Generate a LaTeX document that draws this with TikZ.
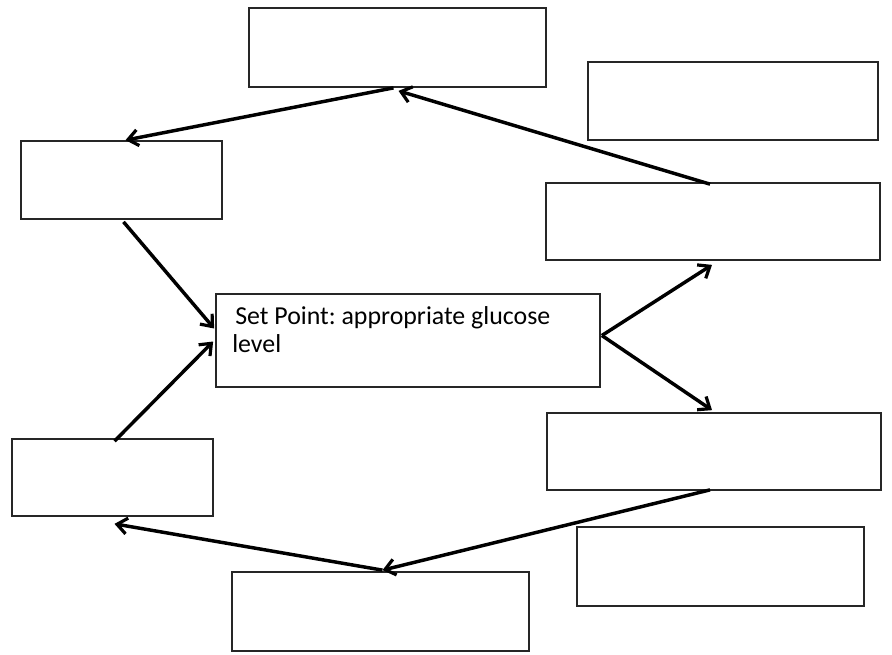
\documentclass[tikz,border=0pt]{standalone}
\usepackage{fontspec}
\setmainfont{Carlito}
\usetikzlibrary{arrows.meta,fit,calc}
\frenchspacing
\tikzset{
  box/.style={draw=black!85, line width=1.3pt, inner sep=0pt, fill=white},
  conn/.style={draw=black, line width=2.6pt, -{Straight Barb[length=7.5pt,width=12pt,line width=2.4pt]}},
  lbl/.style={inner sep=0pt, anchor=base west, font=\fontsize{19.4pt}{21.2pt}\selectfont}
}
\begin{document}
\begin{tikzpicture}[x=0.75pt,y=-0.75pt]
\useasboundingbox (0,0) rectangle (892,654);
\node[box, fit={(249,8) (546,87)}] (T) {};
\node[box, fit={(588,62) (878,140)}] (TR) {};
\node[box, fit={(21,141) (222,219)}] (LU) {};
\node[box, fit={(546,183) (880,260)}] (RU) {};
\node[box, fit={(216,294) (600,387)}] (C) {};
\node[box, fit={(547,413) (881,490)}] (RL) {};
\node[box, fit={(12,439) (213,516)}] (LL) {};
\node[box, fit={(577,527) (864,606)}] (BR) {};
\node[box, fit={(232,572) (529,651)}] (B) {};
\node[lbl] (ct1) at (235,324) {Set Point: appropriate glucose};
\node[lbl] (ct2) at (232,352) {level};
\draw[conn] ($(T.south)+(-4,0)$) -- ($(LU.north)+(4,0)$);
\draw[conn] ($(RU.north)+(-3,2)$) -- ($(T.south)+(1,3)$);
\draw[conn] ($(LU.south)+(2,2)$) -- ($(C.west)+(-1,-12)$);
\draw[conn] ($(LL.north)+(2,3)$) -- ($(C.west)+(-2,1)$);
\draw[conn] ($(C.east)+(1,-5)$) -- ($(RU.south)+(-1,4)$);
\draw[conn] ($(C.east)+(1,-5)$) -- ($(RL.north)+(-2,-2)$);
\draw[conn] ($(RL.south)+(-4,-1)$) -- ($(B.north)+(2,-1)$);
\draw[conn] ($(B.north)+(2,-1)$) -- ($(LL.south)+(2,7)$);
\end{tikzpicture}
\end{document}
